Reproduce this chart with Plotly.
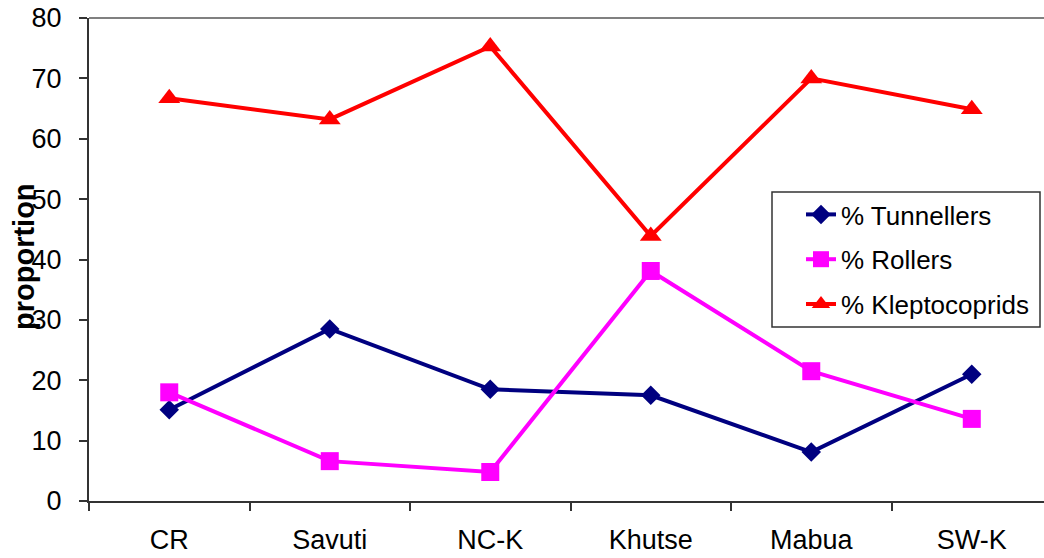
import plotly.graph_objects as go

sites = ["CR", "Savuti", "NC-K", "Khutse", "Mabua", "SW-K"]
tunnellers = [15.1, 28.5, 18.5, 17.5, 8.1, 21.0]
rollers = [18.0, 6.6, 4.8, 38.1, 21.5, 13.6]
kleptocoprids = [66.7, 63.2, 75.3, 43.9, 70.0, 64.9]
y_ticks = [0, 10, 20, 30, 40, 50, 60, 70, 80]

FONT = "Liberation Sans, Arial, sans-serif"

fig = go.Figure()
fig.add_trace(go.Scatter(x=sites, y=tunnellers, mode="lines+markers", name="% Tunnellers",
                         legendgroup="t",
                         line=dict(color="#000080", width=4),
                         marker=dict(symbol="diamond", size=15, color="#000080")))
fig.add_trace(go.Scatter(x=sites, y=rollers, mode="lines+markers", name="% Rollers",
                         legendgroup="r",
                         line=dict(color="#FF00FF", width=4),
                         marker=dict(symbol="square", size=18, color="#FF00FF")))
fig.add_trace(go.Scatter(x=sites, y=kleptocoprids, mode="lines+markers", name="% Kleptocoprids",
                         legendgroup="k",
                         line=dict(color="#FF0000", width=4),
                         marker=dict(symbol="triangle-up", size=19, color="#FF0000")))

W, H = 1044, 558
ml, mr, mt, mb = 89, 0, 18, 57
pw = W - ml - mr
ph = H - mt - mb


def px_x(p):
    return (p - ml) / pw


def px_y(p):
    return 1 - (p - mt) / ph


fig.update_layout(
    width=W, height=H,
    margin=dict(l=ml, r=mr, t=mt, b=mb, autoexpand=False),
    paper_bgcolor="white", plot_bgcolor="white",
    font=dict(family=FONT, size=26, color="black"),
    showlegend=True,
    legend=dict(x=px_x(801), y=px_y(191),
                xanchor="left", yanchor="top",
                bgcolor="rgba(0,0,0,0)", borderwidth=0,
                font=dict(family=FONT, size=26), tracegroupgap=8,
                itemwidth=30),
    xaxis=dict(type="category", range=[-0.5, 5.45], tickson="boundaries",
               ticks="outside", ticklen=8, tickcolor="#333333", tickwidth=1.5,
               showline=True, linecolor="#333333", linewidth=2,
               showgrid=False, zeroline=False, ticklabelstandoff=14,
               tickfont=dict(size=27)),
    yaxis=dict(range=[0, 80], tickvals=y_ticks, ticks="outside", ticklen=8,
               tickcolor="#333333", tickwidth=1.5,
               showline=True, linecolor="#333333", linewidth=2,
               showgrid=False, zeroline=False, ticklabelstandoff=12,
               tickfont=dict(size=27)),
    shapes=[
        dict(type="line", xref="paper", yref="paper", x0=0, x1=1, y0=1, y1=1,
             line=dict(color="#808080", width=2)),
        dict(type="rect", xref="paper", yref="paper", layer="above",
             x0=px_x(772), x1=px_x(1040), y0=px_y(327), y1=px_y(192),
             fillcolor="white", line=dict(color="#333333", width=1.5)),
    ],
    annotations=[dict(text="<b>proportion</b>", textangle=-90, xref="paper", yref="paper",
                      x=px_x(24), y=0.5 + (259.5 - 257) / ph, xanchor="center", yanchor="middle",
                      showarrow=False, font=dict(family=FONT, size=29, color="black"))],
)

fig.write_html("out.html", config={"displayModeBar": False},
               post_script="document.body.style.margin='0';document.body.style.overflow='hidden';")
